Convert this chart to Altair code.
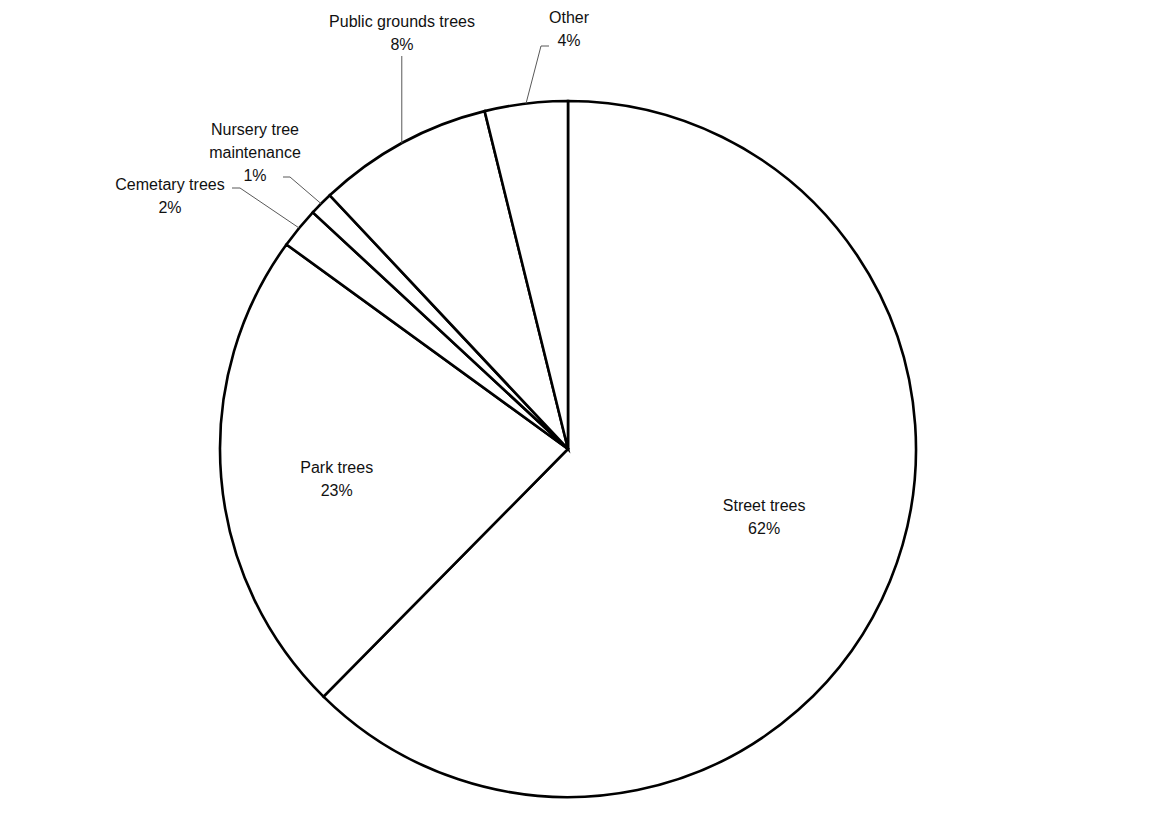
import math
import altair as alt
import pandas as pd

# ---------------- data ----------------
categories = ["Street trees", "Park trees", "Cemetary trees",
              "Nursery tree maintenance", "Public grounds trees", "Other"]
shares = [62.4, 22.6, 1.9, 1.1, 8.15, 3.85]
pct_text = ["62%", "23%", "2%", "1%", "8%", "4%"]
name_lines = [["Street trees"], ["Park trees"], ["Cemetary trees"],
              ["Nursery tree", "maintenance"], ["Public grounds trees"], ["Other"]]
inside = [True, True, False, False, False, False]

# ---------------- layout ----------------
W, H = 1136, 818
CX, CY = 560, 441
R = 348
INSIDE_R = 212
LINE_H = 23
FONT = "Liberation Sans"
FS = 16
# nudges for inside labels (px)
inside_nudge = {"Street trees": (0, -12), "Park trees": (-20, 13)}
# external labels: block centre x, first-line y, leader elbow (x, y), tick end x
ext_layout = {
    "Cemetary trees": dict(tx=162, ty=177, ex=232, ey=180, tick=224),
    "Nursery tree maintenance": dict(tx=247, ty=122, ex=282, ey=169, tick=275),
    "Public grounds trees": dict(tx=394, ty=14, ex=None, ey=48, tick=None),
    "Other": dict(tx=561, ty=10, ex=533, ey=38, tick=541),
}

total = sum(shares)
pie = pd.DataFrame({"category": categories, "share": shares,
                    "idx": list(range(len(categories)))})

text_rows, seg_rows = [], []
cum = 0.0
for i, cat in enumerate(categories):
    a0 = cum / total * 2 * math.pi
    cum += shares[i]
    a1 = cum / total * 2 * math.pi
    mid = (a0 + a1) / 2
    lines = name_lines[i] + [pct_text[i]]
    if inside[i]:
        nx, ny = inside_nudge.get(cat, (0, 0))
        bx = CX + INSIDE_R * math.sin(mid) + nx
        by = CY - INSIDE_R * math.cos(mid) + ny
        y0 = by - (len(lines) - 1) * LINE_H / 2
        for k, ln in enumerate(lines):
            text_rows.append({"x": bx, "y": y0 + k * LINE_H, "t": ln})
    else:
        L = ext_layout[cat]
        for k, ln in enumerate(lines):
            text_rows.append({"x": L["tx"], "y": L["ty"] + k * LINE_H, "t": ln})
        px = CX + R * math.sin(mid)
        py = CY - R * math.cos(mid)
        ex = px if L["ex"] is None else L["ex"]
        seg_rows.append({"x": px, "y": py, "x2": ex, "y2": L["ey"]})
        if L["tick"] is not None:
            seg_rows.append({"x": ex, "y": L["ey"], "x2": L["tick"], "y2": L["ey"]})

texts = pd.DataFrame(text_rows)
segs = pd.DataFrame(seg_rows)

xs = alt.Scale(domain=[0, W], range=[0, W])
ys = alt.Scale(domain=[0, H], range=[0, H])

arcs = alt.Chart(pie).mark_arc(
    outerRadius=R, fill="white", stroke="black", strokeWidth=2.6, strokeJoin="miter"
).encode(
    theta=alt.Theta("share:Q", stack=True),
    order=alt.Order("idx:Q"),
    x=alt.value(CX),
    y=alt.value(CY),
)

leaders = alt.Chart(segs).mark_rule(color="#595959", strokeWidth=1).encode(
    x=alt.X("x:Q", scale=xs, axis=None),
    y=alt.Y("y:Q", scale=ys, axis=None),
    x2="x2:Q",
    y2="y2:Q",
)

labels = alt.Chart(texts).mark_text(
    font=FONT, fontSize=FS, color="#111111", align="center", baseline="middle"
).encode(
    x=alt.X("x:Q", scale=xs, axis=None),
    y=alt.Y("y:Q", scale=ys, axis=None),
    text="t:N",
)

chart = alt.layer(arcs, leaders, labels).properties(
    width=W, height=H, autosize=alt.AutoSizeParams(type="none"), padding=0,
    background="white"
).configure_view(stroke=None)

chart.save("out.html", embed_options={"renderer": "svg", "actions": False})
